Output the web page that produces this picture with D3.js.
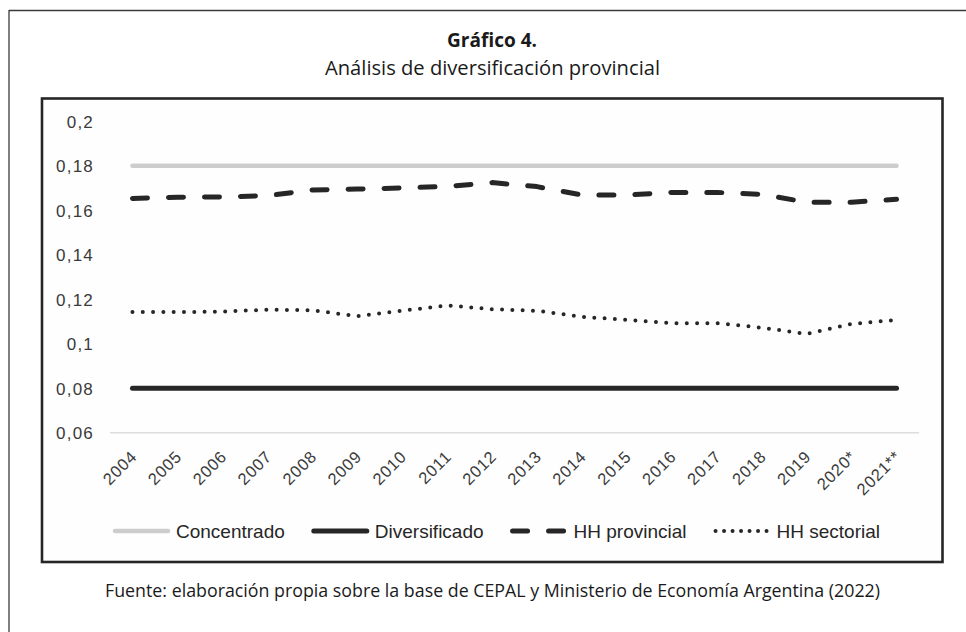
<!DOCTYPE html>
<html>
<head>
<meta charset="utf-8">
<script src="https://cdn.jsdelivr.net/npm/d3@7"></script>
<style>
  html, body { margin: 0; padding: 0; background: #ffffff; }
  svg { display: block; }
</style>
</head>
<body>
<svg id="chart" width="966" height="632"></svg>
<script>
// ---- data ----
const years = ["2004","2005","2006","2007","2008","2009","2010","2011","2012","2013","2014","2015","2016","2017","2018","2019","2020*","2021**"];
const concentrado   = [0.18,0.18,0.18,0.18,0.18,0.18,0.18,0.18,0.18,0.18,0.18,0.18,0.18,0.18,0.18,0.18,0.18,0.18];
const diversificado = [0.08,0.08,0.08,0.08,0.08,0.08,0.08,0.08,0.08,0.08,0.08,0.08,0.08,0.08,0.08,0.08,0.08,0.08];
const hhProvincial  = [0.1653,0.1658,0.1660,0.1665,0.1691,0.1695,0.1700,0.1707,0.1724,0.1706,0.1668,0.1668,0.1680,0.1680,0.1671,0.1636,0.1636,0.1649];
const hhSectorial   = [0.1142,0.1142,0.1144,0.1153,0.1150,0.1124,0.1148,0.1172,0.1155,0.1148,0.1121,0.1107,0.1092,0.1092,0.1072,0.1044,0.1089,0.1107];
const yTickValues = [0.06,0.08,0.10,0.12,0.14,0.16,0.18,0.20];
const yTickLabels = ["0,06","0,08","0,1","0,12","0,14","0,16","0,18","0,2"];
const seriesNames = ["Concentrado","Diversificado","HH provincial","HH sectorial"];
const titleText = "Gráfico 4.";
const subtitleText = "Análisis de diversificación provincial";
const sourceText = "Fuente: elaboración propia sobre la base de CEPAL y Ministerio de Economía Argentina (2022)";

// ---- styles per series ----
const styles = [
  { color: "#cdcdcd", width: 4.5, dash: null,     legendDash: null },
  { color: "#262626", width: 5,   dash: null,     legendDash: null },
  { color: "#262626", width: 5,   dash: "15,21",  legendDash: "15,21" },
  { color: "#262626", width: 4,   dash: "0,10.3", legendDash: "0,8.5" }
];
const seriesValues = [concentrado, diversificado, hhProvincial, hhSectorial];

const svg = d3.select("#chart");
const font = "'Liberation Sans', Arial, sans-serif";
const titleFont = "'Open Sans', 'Noto Sans', sans-serif";

// outer frame (top + left lines)
svg.append("line").attr("x1", 9).attr("x2", 966).attr("y1", 10.5).attr("y2", 10.5)
  .attr("stroke", "#3a3a3a").attr("stroke-width", 1.3);
svg.append("line").attr("x1", 9).attr("x2", 9).attr("y1", 10).attr("y2", 632)
  .attr("stroke", "#3a3a3a").attr("stroke-width", 1.3);

// titles
function fitText(sel, target) {
  const w = sel.node().getComputedTextLength();
  if (w > 0) sel.attr("textLength", target).attr("lengthAdjust", "spacingAndGlyphs");
}
const t1 = svg.append("text").attr("x", 492).attr("y", 46.5).attr("text-anchor", "middle")
  .style("font-family", titleFont).style("font-weight", "bold").style("font-size", "19.5px")
  .attr("fill", "#1a1a1a").text(titleText);
fitText(t1, 90);
const t2 = svg.append("text").attr("x", 492.5).attr("y", 75).attr("text-anchor", "middle")
  .style("font-family", titleFont).style("font-size", "19.5px")
  .attr("fill", "#1a1a1a").text(subtitleText);
fitText(t2, 335);
const t3 = svg.append("text").attr("x", 492.5).attr("y", 596.5).attr("text-anchor", "middle")
  .style("font-family", titleFont).style("font-size", "19px")
  .attr("fill", "#1a1a1a").text(sourceText);
fitText(t3, 775);

// inner chart frame
svg.append("rect").attr("x", 42).attr("y", 98.5).attr("width", 900.5).attr("height", 463.5)
  .attr("fill", "#fefefe").attr("stroke", "#262626").attr("stroke-width", 2.6);

// scales
const x = d3.scalePoint().domain(years).range([110, 919]).padding(0.5);
const y = d3.scaleLinear().domain([0.06, 0.20]).range([432.7, 121.2]);

// baseline gridline at 0.06
svg.append("line").attr("x1", 110).attr("x2", 919).attr("y1", y(0.06)).attr("y2", y(0.06))
  .attr("stroke", "#dcdcdc").attr("stroke-width", 1.5);

// y axis
const yAxis = svg.append("g").attr("transform", "translate(94,0)")
  .call(d3.axisLeft(y).tickValues(yTickValues).tickSize(0).tickPadding(0)
    .tickFormat((d, i) => yTickLabels[i]));
yAxis.select(".domain").remove();
yAxis.attr("font-size", null).attr("font-family", null);
yAxis.selectAll("text")
  .style("font-family", font).style("font-size", "17px").style("letter-spacing", "1.2px")
  .attr("fill", "#3a3a3a").attr("dy", "0.36em");

// x axis
const xAxis = svg.append("g").attr("transform", `translate(0,${y(0.06)})`)
  .call(d3.axisBottom(x).tickSize(0).tickPadding(0));
xAxis.select(".domain").remove();
xAxis.attr("font-size", null).attr("font-family", null);
xAxis.selectAll("text")
  .style("font-family", font).style("font-size", "16.5px").style("letter-spacing", "0.8px")
  .attr("fill", "#3a3a3a")
  .attr("text-anchor", "end").attr("dy", 0).attr("y", 0)
  .attr("transform", "translate(5,25) rotate(-45)");

// lines
const line = d3.line().x((d, i) => x(years[i])).y(d => y(d));
seriesValues.forEach((vals, k) => {
  const st = styles[k];
  const p = svg.append("path").datum(vals).attr("d", line)
    .attr("fill", "none").attr("stroke", st.color).attr("stroke-width", st.width)
    .attr("stroke-linecap", "round").attr("stroke-linejoin", "round");
  if (st.dash) p.attr("stroke-dasharray", st.dash);
});

// legend
const legendY = 531;
let lx = 115;
seriesNames.forEach((name, k) => {
  const st = styles[k];
  const swatch = 53;
  const l = svg.append("line").attr("x1", lx).attr("x2", lx + swatch)
    .attr("y1", legendY).attr("y2", legendY)
    .attr("stroke", st.color).attr("stroke-width", st.width)
    .attr("stroke-linecap", "round");
  if (st.legendDash) l.attr("stroke-dasharray", st.legendDash);
  const tx = svg.append("text").attr("x", lx + swatch + 8).attr("y", legendY + 7.3)
    .style("font-family", font).style("font-size", "19px").attr("fill", "#262626").text(name);
  const w = tx.node().getComputedTextLength();
  lx = lx + swatch + 8 + w + 29;
});
</script>
</body>
</html>
